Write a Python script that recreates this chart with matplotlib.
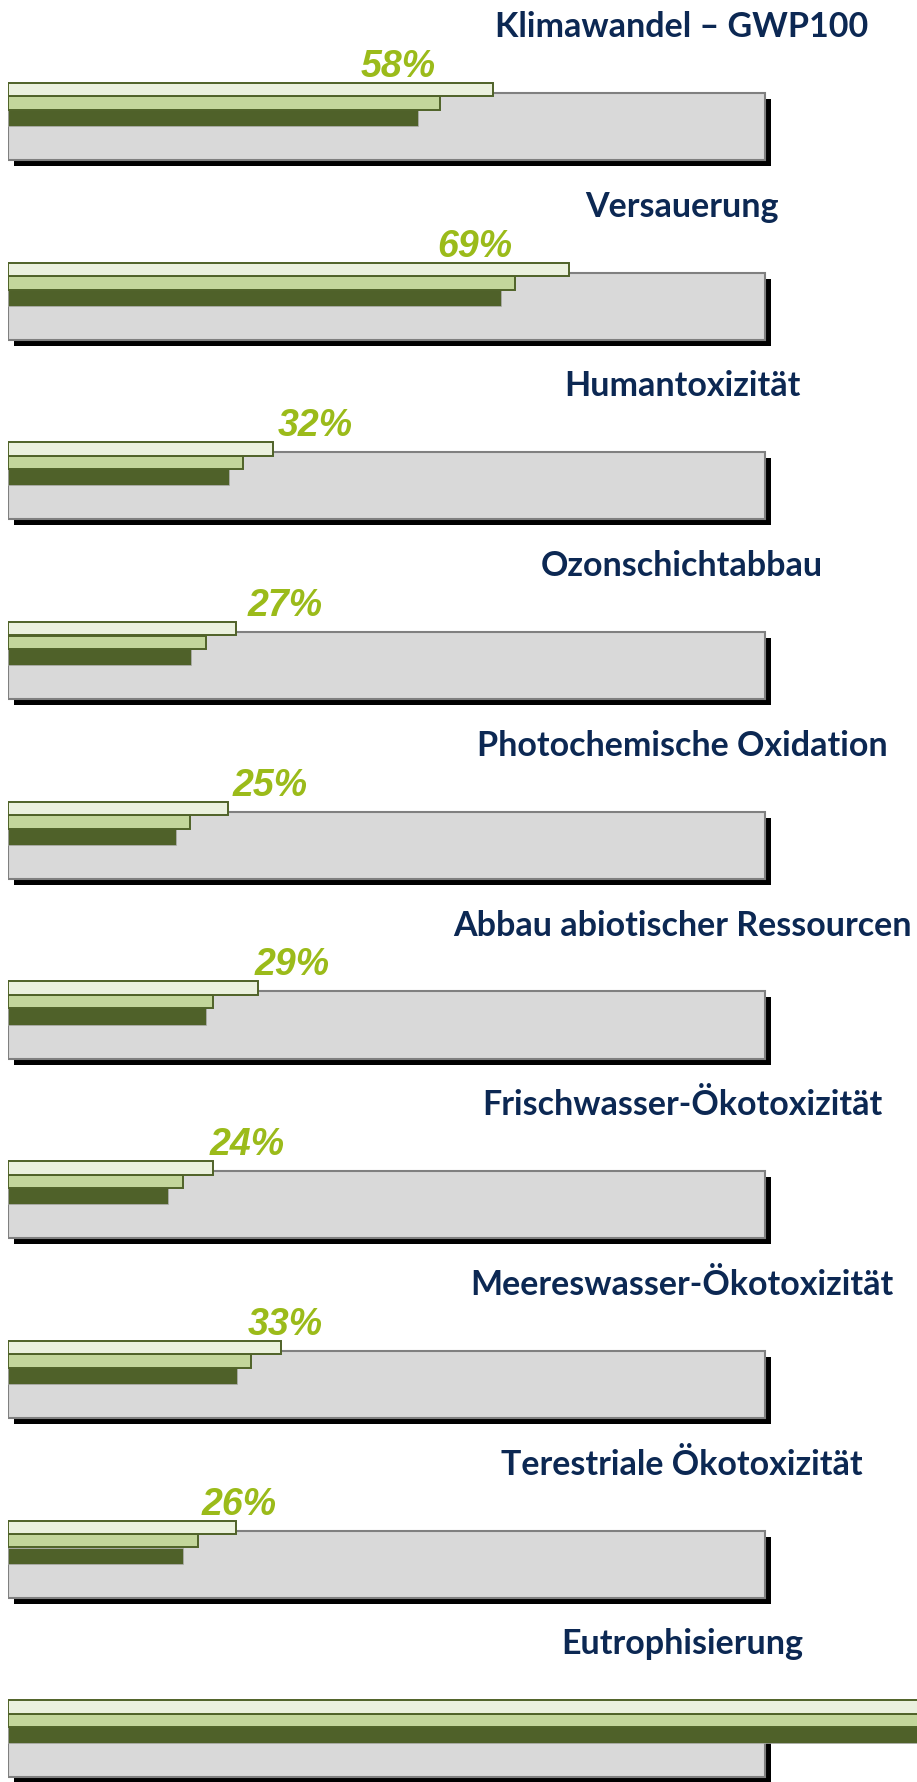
import matplotlib
matplotlib.use("Agg")
import matplotlib.pyplot as plt

# impact categories, top to bottom
categories = [
    "Klimawandel – GWP100",
    "Versauerung",
    "Humantoxizität",
    "Ozonschichtabbau",
    "Photochemische Oxidation",
    "Abbau abiotischer Ressourcen",
    "Frischwasser-Ökotoxizität",
    "Meereswasser-Ökotoxizität",
    "Terestriale Ökotoxizität",
    "Eutrophisierung",
]
# bar lengths, grey track = 100
light_vals = [64.1, 74.1, 35.0, 30.1, 29.1, 33.0, 27.1, 36.1, 30.1, 125]
mid_vals = [57.1, 67.0, 31.0, 26.1, 24.0, 27.1, 23.1, 32.1, 25.1, 125]
dark_vals = [54.2, 65.1, 29.2, 24.2, 22.2, 26.2, 21.1, 30.2, 23.1, 125]
pct_labels = [58, 69, 32, 27, 25, 29, 24, 33, 26, None]
label_x = [51.5, 61.7, 40.6, 36.6, 34.6, 37.5, 31.6, 36.6, 30.6, None]
track = 100

W, H = 917, 1782
fig = plt.figure(figsize=(W / 100, H / 100), dpi=100)

px_per_unit = 757 / track
x0 = 8
xmax = (W - x0) / px_per_unit
first_top = 83
step = 179.7

for i, name in enumerate(categories):
    top = first_top + step * i
    ax = fig.add_axes([x0 / W, 1 - (top + 90) / H, (W - x0) / W, 110 / H])
    ax.set_xlim(0, xmax)
    ax.set_ylim(90, -20)
    ax.axis("off")

    # shadow + grey track
    ax.barh(49.5, track, height=67, left=6 / px_per_unit, color="black", zorder=1)
    ax.barh(43.5, track, height=67, color="#D9D9D9", edgecolor="#808080",
            linewidth=1.5, zorder=2)

    ax.barh(35, dark_vals[i], height=16, color="#4F6129", edgecolor="#B0B0B0",
            linewidth=0.5, zorder=3)
    ax.barh(20.1, mid_vals[i], height=13.4, color="#C3D69B", edgecolor="#4F6228",
            linewidth=1.4, zorder=4)
    ax.barh(6.7, light_vals[i], height=13.4, color="#EBF1DE", edgecolor="#4F6228",
            linewidth=1.4, zorder=5)

    if pct_labels[i] is not None:
        ax.text(label_x[i], -6, f"{pct_labels[i]}%", ha="center", va="baseline",
                fontsize=27, fontweight="bold", fontstyle="italic",
                family="Liberation Sans", color="#9BBB1A", clip_on=False)

    fig.text(682 / W, 1 - (top - 46) / H, name, ha="center", va="baseline",
             fontsize=24.5, fontweight="bold", family="Lato", color="#0C2853")

fig.savefig("out.png", dpi=100)
